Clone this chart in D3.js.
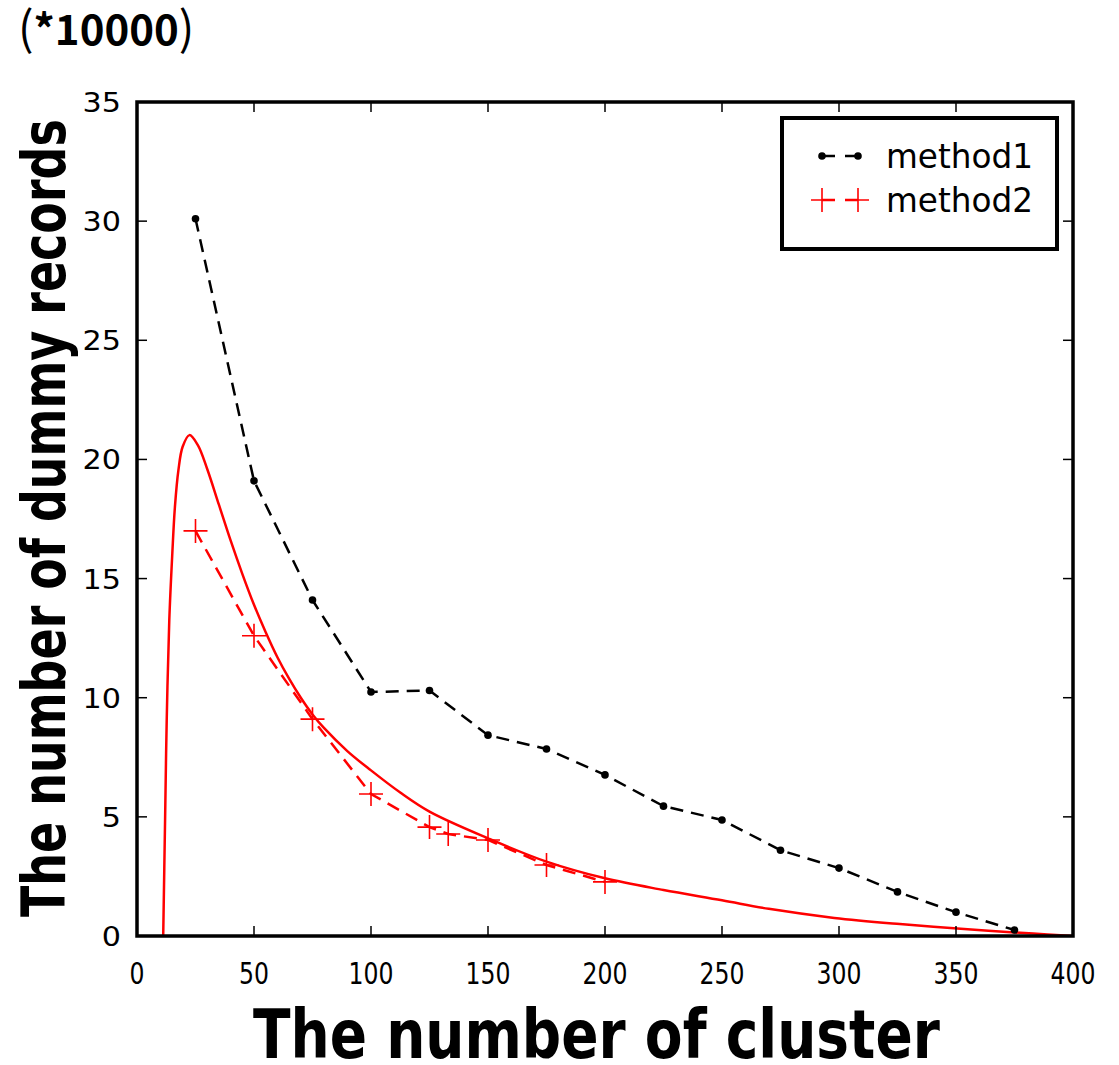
<!DOCTYPE html>
<html>
<head>
<meta charset="utf-8">
<script src="https://cdn.jsdelivr.net/npm/d3@7"></script>
<style>
  html, body { margin: 0; padding: 0; background: #fff; }
  svg { display: block; }
</style>
</head>
<body>
<svg id="chart" width="1119" height="1065"></svg>
<script>
// ---- data ----
const m1X = [25, 50, 75, 100, 125, 150, 175, 200, 225, 250, 275, 300, 325, 350, 375];
const m1Y = [30.1, 19.1, 14.1, 10.24, 10.3, 8.43, 7.85, 6.76, 5.45, 4.87, 3.6, 2.85, 1.85, 1.0, 0.25];
const m2X = [25, 50, 75, 100, 125, 133, 150, 175, 200];
const m2Y = [17.0, 12.6, 9.1, 5.96, 4.57, 4.28, 4.03, 2.98, 2.27];
const fitX = [11.2, 12.0, 12.7, 13.8, 15.1, 16.2, 17.7, 19.5, 22.4, 26, 30, 35, 40, 45, 50, 55, 60, 65, 70, 75, 80, 90, 100, 112.5, 125, 150, 175, 200, 225, 250, 270, 298, 326, 355, 383, 400];
const fitY = [0, 4.87, 9.06, 13.26, 16.07, 18.0, 19.55, 20.53, 21.02, 20.6, 19.6, 18.1, 16.6, 15.2, 13.9, 12.75, 11.7, 10.8, 10.0, 9.3, 8.72, 7.75, 6.95, 6.02, 5.22, 4.1, 3.12, 2.42, 1.93, 1.5, 1.14, 0.76, 0.5, 0.28, 0.1, 0];
const xTicks = [0, 50, 100, 150, 200, 250, 300, 350, 400];
const yTicks = [0, 5, 10, 15, 20, 25, 30, 35];
const seriesNames = ["method1", "method2"];
const xTitle = "The number of cluster";
const yTitle = "The number of dummy records";
const unitLabel = "*10000";

// ---- layout ----
const L = 137, R = 1073, T = 102, B = 936;
const svg = d3.select("#chart");
const x = d3.scaleLinear().domain([0, 400]).range([L, R]);
const y = d3.scaleLinear().domain([0, 35]).range([B, T]);

const m1 = m1X.map((v, i) => [v, m1Y[i]]);
const m2 = m2X.map((v, i) => [v, m2Y[i]]);
const fit = fitX.map((v, i) => [v, fitY[i]]);

svg.append("clipPath").attr("id", "clip")
  .append("rect").attr("x", L).attr("y", T).attr("width", R - L).attr("height", B - T);

const plot = svg.append("g").attr("clip-path", "url(#clip)");

// fitted red curve
plot.append("path").datum(fit)
  .attr("d", d3.line().x(d => x(d[0])).y(d => y(d[1])).curve(d3.curveCatmullRom.alpha(0.5)))
  .attr("fill", "none").attr("stroke", "#ff0000").attr("stroke-width", 2.5);

const straight = d3.line().x(d => x(d[0])).y(d => y(d[1]));
// method2 dashed red
plot.append("path").datum(m2).attr("d", straight)
  .attr("fill", "none").attr("stroke", "#ff0000").attr("stroke-width", 2.5)
  .attr("stroke-dasharray", "13,8");
// method1 dashed black
plot.append("path").datum(m1).attr("d", straight)
  .attr("fill", "none").attr("stroke", "#000").attr("stroke-width", 2.5)
  .attr("stroke-dasharray", "13,8");

// markers
plot.selectAll("circle.m1").data(m1).enter().append("circle")
  .attr("cx", d => x(d[0])).attr("cy", d => y(d[1])).attr("r", 3.8).attr("fill", "#000");
const cross = 12;
plot.selectAll("path.m2").data(m2).enter().append("path")
  .attr("d", d => `M${x(d[0]) - cross},${y(d[1])}H${x(d[0]) + cross}M${x(d[0])},${y(d[1]) - cross}V${y(d[1]) + cross}`)
  .attr("stroke", "#ff0000").attr("stroke-width", 1.6).attr("fill", "none");

// ticks (inside, all four sides)
const tk = svg.append("g").attr("stroke", "#000").attr("stroke-width", 1.5);
xTicks.forEach(t => {
  tk.append("line").attr("x1", x(t)).attr("x2", x(t)).attr("y1", B).attr("y2", B - 10);
  tk.append("line").attr("x1", x(t)).attr("x2", x(t)).attr("y1", T).attr("y2", T + 10);
});
yTicks.forEach(t => {
  tk.append("line").attr("x1", L).attr("x2", L + 10).attr("y1", y(t)).attr("y2", y(t));
  tk.append("line").attr("x1", R).attr("x2", R - 10).attr("y1", y(t)).attr("y2", y(t));
});

// frame
svg.append("rect").attr("x", L).attr("y", T).attr("width", R - L).attr("height", B - T)
  .attr("fill", "none").attr("stroke", "#000").attr("stroke-width", 3.5);

// tick labels
const font = "'DejaVu Sans', sans-serif";
xTicks.forEach(t => {
  svg.append("text")
    .attr("transform", `translate(${x(t)},984) scale(0.76,1)`)
    .attr("text-anchor", "middle").attr("font-family", font).attr("font-size", 31)
    .text(t);
});
yTicks.forEach(t => {
  svg.append("text")
    .attr("transform", `translate(121,${y(t) + 10}) scale(1.12,1)`)
    .attr("text-anchor", "end").attr("font-family", font).attr("font-size", 27)
    .text(t);
});

// axis titles: measured, then scaled horizontally to the reference width
function fitText(g, str, size, target) {
  const t = g.append("text").attr("font-family", font).attr("font-weight", "bold")
    .attr("font-size", size).text(str);
  const w = t.node().getComputedTextLength();
  t.attr("transform", `scale(${target / w},1)`);
}
const gx = svg.append("g").attr("transform", "translate(253,1058)");
fitText(gx, xTitle, 68, 687);
const gy = svg.append("g").attr("transform", "translate(65,917) rotate(-90)");
fitText(gy, yTitle, 60, 798);

// unit label
const ut = svg.append("text").attr("x", 18).attr("y", 45)
  .attr("font-family", "'Noto Sans CJK JP', sans-serif").attr("font-size", 42);
ut.append("tspan").attr("font-size", 46).text("(");
ut.append("tspan").attr("font-weight", "bold").text(unitLabel);
ut.append("tspan").attr("font-size", 46).text(")");

// legend
const lg = svg.append("g");
lg.append("rect").attr("x", 782).attr("y", 118).attr("width", 275).attr("height", 131)
  .attr("fill", "#fff").attr("stroke", "#000").attr("stroke-width", 4);
const ly = [156, 200];
const lx1 = 822, lx2 = 858;
lg.append("line").attr("x1", lx1).attr("x2", lx2).attr("y1", ly[0]).attr("y2", ly[0])
  .attr("stroke", "#000").attr("stroke-width", 2.5).attr("stroke-dasharray", "13,10");
[lx1, lx2].forEach(px => lg.append("circle").attr("cx", px).attr("cy", ly[0]).attr("r", 3.8).attr("fill", "#000"));
lg.append("line").attr("x1", lx1).attr("x2", lx2).attr("y1", ly[1]).attr("y2", ly[1])
  .attr("stroke", "#ff0000").attr("stroke-width", 2.5).attr("stroke-dasharray", "13,10");
[lx1, lx2].forEach(px => lg.append("path")
  .attr("d", `M${px - 11},${ly[1]}H${px + 11}M${px},${ly[1] - 12}V${ly[1] + 12}`)
  .attr("stroke", "#ff0000").attr("stroke-width", 1.6));
seriesNames.forEach((n, i) => {
  lg.append("text").attr("x", 886).attr("y", ly[i] + 12)
    .attr("font-family", font).attr("font-size", 33)
    .attr("textLength", 147).attr("lengthAdjust", "spacingAndGlyphs")
    .text(n);
});
</script>
</body>
</html>
